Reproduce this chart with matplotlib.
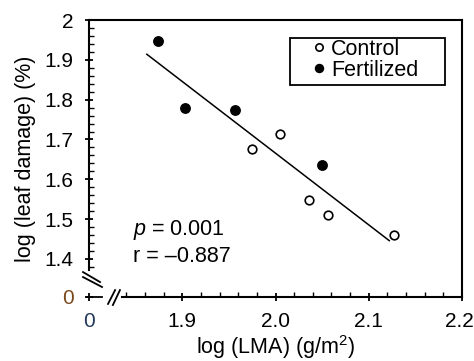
import numpy as np
import matplotlib
matplotlib.use("Agg")
import matplotlib.pyplot as plt
import matplotlib.transforms as mtransforms
from matplotlib.patches import Rectangle

# datos
control_x = [1.975, 2.005, 2.036, 2.056, 2.127]
control_y = [1.675, 1.713, 1.549, 1.511, 1.461]

fert_x = [1.874, 1.903, 1.957, 2.050]
fert_y = [1.947, 1.778, 1.773, 1.637]

# recta de ajuste (extremos)
fit_x = [1.862, 2.122]
fit_y = [1.914, 1.446]

xticks = [1.8, 1.9, 2.0, 2.1, 2.2]
xticklabels = ["0", "1.9", "2.0", "2.1", "2.2"]
yticks = [1.3045, 1.4, 1.5, 1.6, 1.7, 1.8, 1.9, 2.0]
yticklabels = ["0", "1.4", "1.5", "1.6", "1.7", "1.8", "1.9", "2"]

plt.rcParams["font.family"] = ["Liberation Sans", "DejaVu Sans"]
plt.rcParams["mathtext.fontset"] = "custom"
plt.rcParams["mathtext.rm"] = "Liberation Sans"
plt.rcParams["mathtext.it"] = "Liberation Sans:italic"

fs = 15.5


def main():
    fig = plt.figure(figsize=(4.74, 3.61), dpi=100)
    ax = fig.add_axes([89/474, 1-297/361, 373/474, 277/361])

    ax.set_xlim(1.8, 2.2)
    ax.set_ylim(1.3045, 2.0)

    ax.plot(fit_x, fit_y, color="black", lw=1.1)
    ax.plot(control_x, control_y, "o", ms=6.2, mfc="white", mec="black", mew=1.2,
            label="Control", clip_on=False)
    ax.plot(fert_x, fert_y, "o", ms=6.8, mfc="black", mec="black",
            label="Fertilized", clip_on=False)

    # ejes
    for s in ["top", "right", "left", "bottom"]:
        ax.spines[s].set_linewidth(1.5)
    ax.spines["left"].set_bounds(1.372, 2.0)
    ax.spines["bottom"].set_bounds(1.835, 2.2)

    ax.set_xticks(xticks)
    ax.set_xticklabels(xticklabels)
    ax.set_yticks(yticks)
    ax.set_yticklabels(yticklabels)
    ax.set_xticks(np.arange(1.84, 2.2, 0.02), minor=True)
    ax.set_yticks(np.arange(1.38, 2.0, 0.02), minor=True)
    ax.tick_params(which="major", direction="inout", length=6, width=1.3,
                   labelsize=15)
    ax.tick_params(axis="y", which="major", pad=8)
    ax.tick_params(axis="x", which="major", pad=8)
    ax.tick_params(which="minor", direction="in", length=3.5, width=1.0)
    ax.get_yticklabels()[0].set_color("#7a4a1c")
    ax.get_xticklabels()[0].set_color("#243a5c")
    # el 2.2 queda pegado al borde
    ult = ax.get_xticklabels()[-1]
    ult.set_transform(ult.get_transform() +
                      mtransforms.ScaledTranslation(-3/100, 0, fig.dpi_scale_trans))

    # corte de ejes
    kw = dict(transform=ax.transAxes, color="black", lw=1.3, clip_on=False)
    ax.plot([-0.005, 0.035], [0, 0], **kw)
    ax.plot([-0.016, 0.0295], [0.090, 0.054], **kw)
    ax.plot([-0.016, 0.035], [0.072, 0.036], **kw)
    ax.plot([0.051, 0.070], [-0.025, 0.025], **kw)
    ax.plot([0.064, 0.083], [-0.029, 0.025], **kw)

    ax.set_xlabel("log (LMA) (g/m$^2$)", fontsize=fs, labelpad=1)
    ax.set_ylabel("log (leaf damage) (%)", fontsize=fs, labelpad=6)

    ax.text(0.118, 0.242, "$p$ = 0.001", transform=ax.transAxes,
            fontsize=fs, va="center")
    ax.text(0.118, 0.148, "r = \u20130.887", transform=ax.transAxes,
            fontsize=fs, va="center")

    ax.add_patch(Rectangle((0.539, 0.765), 0.415, 0.170, transform=ax.transAxes,
                           fill=False, ec="black", lw=1.3, clip_on=False))
    ax.legend(loc="upper left", bbox_to_anchor=(0.602, 0.933), frameon=False,
              fontsize=fs, handlelength=0.5, handletextpad=0.3, borderpad=0,
              labelspacing=0.0, markerscale=0.85, borderaxespad=0)

    plt.savefig("out.png", dpi=100)


if __name__ == "__main__":
    main()
